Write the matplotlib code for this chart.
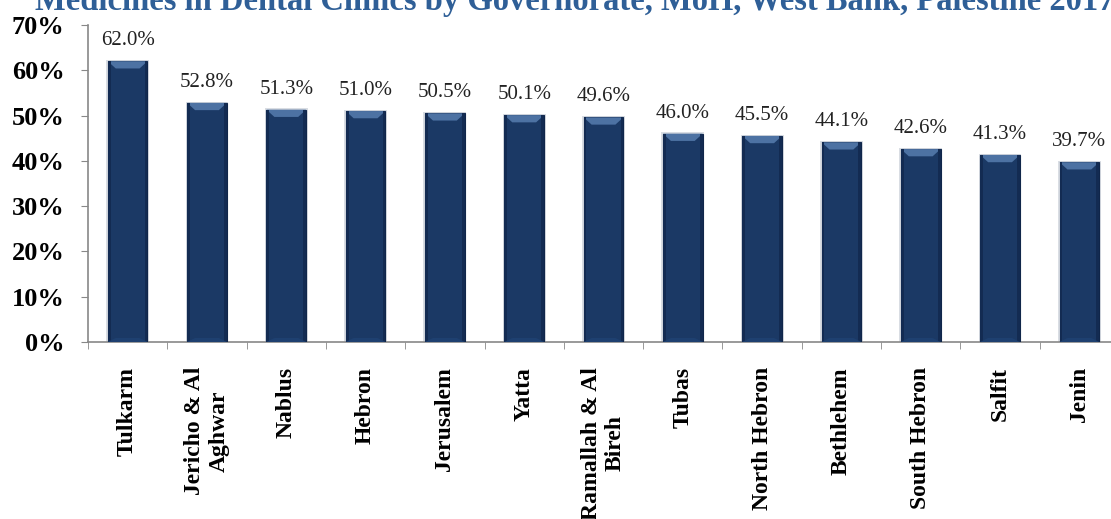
import numpy as np
import matplotlib.pyplot as plt
from matplotlib.patches import Polygon, Rectangle

# Percentage by governorate (sorted, highest first)
governorates = ["Tulkarm", "Jericho & Al\nAghwar", "Nablus", "Hebron", "Jerusalem",
                "Yatta", "Ramallah & Al\nBireh", "Tubas", "North Hebron", "Bethlehem",
                "South Hebron", "Salfit", "Jenin"]
percent = [62.0, 52.8, 51.3, 51.0, 50.5, 50.1, 49.6, 46.0, 45.5, 44.1, 42.6, 41.3, 39.7]
y_ticks = [0, 10, 20, 30, 40, 50, 60, 70]

title = "Medicines in Dental Clinics by Governorate, MoH, West Bank, Palestine 2017"

plt.rcParams["font.family"] = ["Liberation Serif", "DejaVu Serif"]

W, H = 1111, 519
fig = plt.figure(figsize=(W / 100, H / 100), dpi=100)
ax = fig.add_axes([88 / W, (H - 342) / H, 1031 / W, 317 / H])

x = np.arange(len(percent))
bw = 0.5
body = "#1b3965"
edge = "#10264a"
cap = "#4d72a3"

bars = ax.bar(x, percent, width=bw, color=body, edgecolor=edge, linewidth=0.8, zorder=3)

# soft shadow, bevelled top and darker sides on each bar
for b in bars:
    x0, w, h = b.get_x(), b.get_width(), b.get_height()
    ax.add_patch(Rectangle((x0 - 0.02, 0), w + 0.04, h + 0.3, color="#d9dde3",
                           zorder=2, linewidth=0))
    d = 1.6
    ins = 0.1
    ax.add_patch(Polygon([(x0, h), (x0 + w, h), (x0 + w - ins, h - d), (x0 + ins, h - d)],
                         closed=True, facecolor=cap, edgecolor="none", zorder=4))
    ax.add_patch(Rectangle((x0, 0), 0.035, h, color="#132b52", zorder=4, linewidth=0))
    ax.add_patch(Rectangle((x0 + w - 0.035, 0), 0.035, h, color="#132b52", zorder=4,
                           linewidth=0))
    ax.add_patch(Polygon([(x0, 0), (x0 + w, 0), (x0 + w - ins, 0.9), (x0 + ins, 0.9)],
                         closed=True, facecolor="#1e4070", edgecolor="none", zorder=4))

for xi, v in zip(x, percent):
    ax.annotate(f"{v:.1f}%", (xi, v), xytext=(0, 8), textcoords="offset points",
                ha="center", va="bottom", fontsize=15, color="#222222")

ax.set_xlim(-0.5, len(percent) - 0.5)
ax.set_ylim(0, 70)
ax.set_yticks(y_ticks)
ax.set_yticklabels([f"{t}%" for t in y_ticks], fontsize=19, fontweight="bold")

ax.set_xticks(x)
ax.set_xticklabels(governorates, rotation=90, fontsize=17, fontweight="bold",
                   ha="center", va="top", multialignment="center")
ax.set_xticks(np.arange(len(percent) + 1) - 0.5, minor=True)
ax.tick_params(axis="x", which="major", length=0, pad=18)
ax.tick_params(axis="x", which="minor", length=5, color="#888888", direction="out")
ax.tick_params(axis="y", length=5, color="#888888", pad=12)
for lbl in ax.get_yticklabels():
    lbl.set_horizontalalignment("right")

for s in ("top", "right"):
    ax.spines[s].set_visible(False)
for s in ("left", "bottom"):
    ax.spines[s].set_color("#888888")
    ax.spines[s].set_linewidth(1.2)

fig.text(575 / W, 1 - 10 / H, title, ha="center", va="baseline", fontsize=23.5,
         fontweight="bold", color="#2f5f97")

fig.savefig("out.png", dpi=100)
